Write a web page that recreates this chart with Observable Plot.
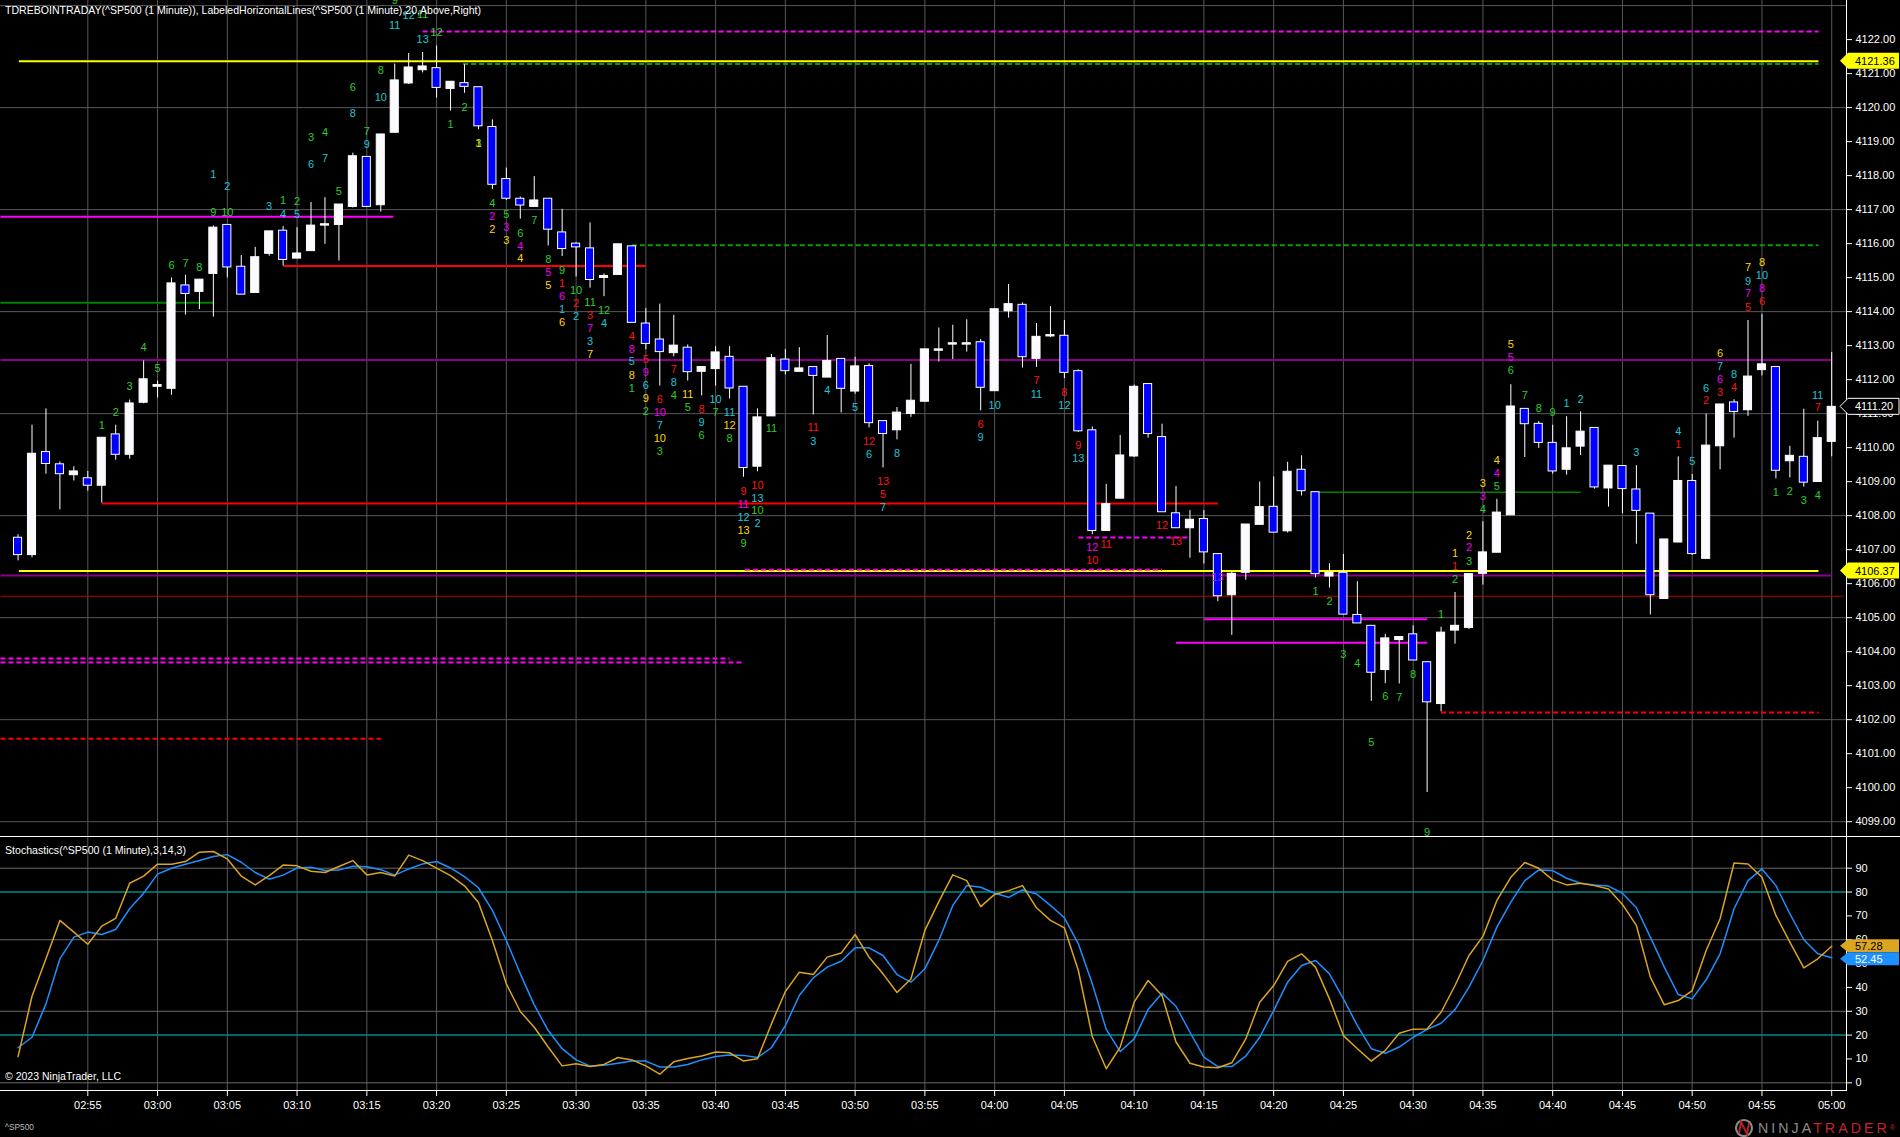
<!DOCTYPE html>
<html><head><meta charset="utf-8">
<script src="https://cdn.jsdelivr.net/npm/d3@7"></script>
<script src="https://cdn.jsdelivr.net/npm/@observablehq/plot@0.6"></script>
<style>
html,body{margin:0;padding:0;background:#000;}
#wrap{position:relative;width:1900px;height:1137px;overflow:hidden;background:#000;font-family:"Liberation Sans",Arial,sans-serif;}
.abs{position:absolute;white-space:nowrap;}
.t{color:#fff;font-size:11px;line-height:11px;transform-origin:0 50%;}
.line{position:absolute;background:#fff;}
</style></head><body><div id="wrap"></div>
<script>
// ---------------- DATA ----------------
const startMinutes = 2 * 60 + 50; // first bar 02:50, one bar per minute
const open = [4107.35,4106.84,4109.87,4109.51,4109.19,4109.10,4108.88,4110.39,4109.79,4111.32,
 4111.79,4111.73,4114.77,4114.58,4115.11,4116.55,4115.32,4114.55,4115.70,4116.38,
 4115.56,4115.78,4116.53,4116.55,4117.08,4118.55,4117.13,4119.26,4120.71,4121.10,
 4121.16,4120.55,4120.72,4120.60,4119.43,4117.90,4117.32,4117.08,4117.32,4116.33,
 4116.00,4115.86,4114.99,4115.08,4115.92,4113.65,4113.18,4112.78,4112.94,4112.23,
 4112.31,4112.67,4111.79,4109.44,4110.92,4112.59,4112.23,4112.37,4112.06,4112.61,
 4111.65,4112.40,4110.78,4110.51,4110.99,4111.35,4112.85,4113.03,4113.03,4113.10,
 4111.66,4114.01,4114.20,4112.61,4113.27,4113.29,4112.25,4110.51,4107.55,4108.50,
 4109.74,4111.87,4110.31,4108.07,4107.63,4107.90,4106.87,4105.66,4106.32,4107.73,
 4108.26,4107.54,4109.35,4108.69,4106.21,4106.32,4105.08,4104.76,4103.46,4104.34,
 4104.51,4103.69,4102.46,4104.62,4104.70,4106.29,4106.91,4108.01,4111.14,4110.70,
 4110.14,4109.35,4110.03,4110.58,4108.80,4109.46,4108.77,4108.06,4105.55,4107.21,
 4109.02,4106.73,4110.04,4111.33,4111.10,4112.28,4112.37,4109.60,4109.73,4108.99,
 4110.17];
const high = [4107.44,4110.66,4111.14,4109.58,4109.44,4109.30,4110.29,4110.66,4111.40,4112.55,
 4111.96,4114.99,4115.07,4114.94,4116.52,4116.55,4115.65,4115.89,4116.36,4116.50,
 4116.47,4117.21,4117.35,4117.15,4118.66,4118.55,4119.21,4121.28,4121.59,4121.62,
 4121.81,4120.76,4121.26,4120.60,4119.64,4118.22,4117.37,4117.97,4117.32,4117.01,
 4116.02,4116.61,4115.11,4115.98,4115.92,4114.09,4114.22,4113.89,4113.02,4112.37,
 4112.97,4112.97,4111.79,4111.14,4112.74,4112.89,4112.94,4112.37,4113.30,4112.61,
 4112.66,4112.47,4110.78,4111.18,4112.45,4112.89,4113.52,4113.60,4113.76,4113.18,
 4114.07,4114.80,4114.26,4113.65,4114.15,4113.74,4112.29,4110.61,4108.92,4110.36,
 4111.84,4111.87,4110.69,4108.86,4108.15,4108.15,4106.87,4106.36,4107.74,4108.99,
 4109.14,4109.57,4109.76,4108.69,4106.59,4106.86,4106.06,4104.76,4104.51,4104.43,
 4104.76,4103.69,4104.72,4105.74,4106.28,4107.82,4108.48,4111.85,4111.14,4110.77,
 4110.66,4110.91,4111.05,4110.58,4109.47,4109.46,4109.47,4108.06,4107.30,4109.73,
 4109.21,4110.99,4111.27,4111.41,4113.74,4113.92,4112.37,4110.04,4111.13,4110.78,
 4112.80];
const low = [4106.67,4106.76,4109.22,4108.17,4109.02,4108.72,4108.37,4109.63,4109.66,4111.29,
 4111.46,4111.54,4113.90,4114.06,4113.84,4114.99,4114.50,4114.55,4115.63,4115.34,
 4115.56,4115.78,4115.98,4115.49,4117.05,4117.08,4116.93,4119.26,4120.68,4121.02,
 4120.28,4119.90,4120.42,4119.35,4117.59,4117.27,4116.72,4117.08,4115.93,4115.62,
 4115.02,4114.69,4114.44,4115.08,4113.67,4112.88,4111.81,4112.67,4111.96,4111.52,
 4111.81,4111.43,4109.13,4109.29,4110.92,4112.14,4112.23,4110.96,4112.06,4111.02,
 4111.57,4110.58,4109.40,4110.23,4110.89,4111.35,4112.52,4112.59,4112.81,4111.08,
 4111.66,4113.81,4112.34,4112.36,4113.24,4112.03,4110.45,4107.44,4107.55,4108.50,
 4109.71,4110.28,4108.10,4107.63,4106.75,4106.58,4105.47,4104.48,4106.10,4107.73,
 4107.50,4107.49,4108.58,4106.17,4105.87,4105.09,4104.83,4102.54,4103.06,4103.05,
 4103.74,4099.86,4102.23,4104.22,4104.65,4105.96,4106.91,4108.01,4109.71,4109.98,
 4109.22,4109.19,4109.77,4108.78,4108.25,4108.06,4107.16,4105.08,4105.55,4107.21,
 4106.83,4106.73,4109.35,4110.28,4110.92,4112.11,4109.08,4109.11,4108.84,4108.99,
 4109.73];
const close = [4106.84,4109.82,4109.52,4109.22,4109.30,4108.88,4110.29,4109.79,4111.30,4112.01,
 4111.84,4114.83,4114.52,4114.94,4116.47,4115.30,4114.50,4115.60,4116.36,4115.52,
 4115.71,4116.53,4116.57,4117.15,4118.57,4117.08,4119.21,4120.80,4121.18,4121.21,
 4120.58,4120.76,4120.61,4119.45,4117.73,4117.32,4117.12,4117.27,4116.41,4115.84,
 4115.89,4114.93,4115.05,4115.98,4113.67,4113.05,4112.81,4113.00,4112.22,4112.37,
 4112.80,4111.74,4109.40,4110.89,4112.63,4112.25,4112.33,4112.11,4112.55,4111.73,
 4112.39,4110.72,4110.40,4111.03,4111.38,4112.89,4112.89,4113.07,4113.07,4111.76,
 4114.07,4114.22,4112.66,4113.26,4113.31,4112.20,4110.48,4107.55,4108.34,4109.77,
 4111.79,4110.40,4108.10,4107.63,4107.88,4106.92,4105.63,4106.29,4107.74,4108.25,
 4107.50,4109.29,4108.72,4106.28,4106.32,4105.09,4104.83,4103.38,4104.39,4104.43,
 4103.74,4102.51,4104.56,4104.76,4106.28,4106.92,4108.09,4111.21,4110.69,4110.14,
 4109.30,4109.98,4110.47,4108.83,4109.47,4108.78,4108.14,4105.66,4107.30,4109.02,
 4106.87,4110.06,4111.27,4111.05,4112.09,4112.45,4109.32,4109.76,4108.97,4110.28,
 4111.20];

// Stochastics(3,14,3): K (gold) and D (blue)
const stochK = [11.0,36.3,52.0,68.1,63.2,58.1,65.7,69.0,83.7,86.7,
 91.7,91.7,92.8,96.7,97.0,93.9,86.7,83.0,86.9,91.3,
 91.0,88.7,88.2,90.7,93.2,87.2,88.2,86.7,95.5,93.2,
 90.0,86.9,82.6,75.6,59.7,41.5,29.9,23.3,15.0,7.1,
 8.0,6.8,7.7,10.6,9.6,7.1,3.6,8.8,10.2,11.2,
 12.9,12.6,9.1,10.1,24.7,38.3,46.4,45.4,52.7,54.4,
 62.2,52.7,45.7,37.9,43.5,63.9,76.0,87.2,84.8,73.9,
 79.0,80.6,82.7,73.4,68.1,65.0,47.1,19.4,5.9,15.0,
 33.8,42.9,36.6,17.1,8.2,6.6,6.3,8.4,18.4,33.8,
 40.8,50.9,54.1,48.5,35.2,19.8,14.3,9.1,13.6,20.8,
 22.5,22.6,29.6,40.8,53.4,61.4,76.5,86.2,92.4,90.0,
 85.1,83.0,83.7,82.7,81.3,74.8,66.0,44.3,32.7,34.5,
 38.7,55.5,68.8,92.2,91.8,86.2,70.2,59.0,48.2,52.0,
 57.28];
const stochD = [14.7,19.1,33.1,52.0,61.1,63.2,62.2,64.3,73.0,79.5,
 87.5,90.0,91.7,93.2,94.9,95.7,92.5,88.2,85.4,87.1,
 90.1,90.4,89.0,89.2,90.8,90.6,89.4,87.1,89.7,91.8,
 92.8,90.1,86.5,81.8,72.3,59.7,45.7,32.7,21.9,14.3,
 9.6,7.0,7.4,8.2,9.1,9.1,6.6,6.6,7.7,9.6,
 11.0,11.7,11.5,10.6,14.7,24.0,36.6,44.0,48.5,51.0,
 56.6,56.6,53.4,45.4,42.2,47.8,59.7,74.4,82.7,82.0,
 79.5,77.8,80.9,79.2,74.4,69.2,58.3,41.5,22.4,13.1,
 18.4,30.7,37.6,32.1,21.2,10.8,6.8,6.8,11.2,19.1,
 30.3,42.2,49.2,51.3,45.7,35.2,24.0,14.3,12.4,15.0,
 19.1,22.4,25.0,30.7,40.1,51.3,65.3,75.8,84.8,89.3,
 89.0,85.8,83.7,83.0,82.5,79.5,73.4,61.1,48.5,37.0,
 35.2,43.2,54.1,73.0,84.8,89.7,82.7,70.9,60.0,54.1,
 52.45];

// Horizontal levels: [price, from bar, to bar, kind]
const levels = [
 [4121.36, 0.06, 129.05, "yellow"],
 [4121.28, 31.9, 129.05, "greenDash"],
 [4122.24, 29.0, 129.05, "magentaDash"],
 [4116.79, -1.26, 26.9, "magenta"],
 [4114.26, -1.26, 14.0, "green"],
 [4112.58, -1.26, 130.0, "purple"],
 [4108.36, 6.0, 86.0, "red"],
 [4115.34, 19.0, 45.0, "red"],
 [4106.37, 0.06, 129.05, "yellow"],
 [4106.24, -1.26, 130.0, "purple"],
 [4105.63, -1.26, 130.85, "redThin"],
 [4103.80, -1.26, 51.0, "magentaDash"],
 [4103.68, -1.26, 52.0, "magentaDash"],
 [4101.44, -1.26, 26.0, "redDash"],
 [4115.95, 44.0, 129.05, "greenDash"],
 [4107.36, 76.0, 84.0, "magentaDash"],
 [4106.41, 52.1, 82.0, "magentaDash"],
 [4104.95, 85.0, 101.0, "magenta"],
 [4104.26, 83.0, 101.0, "magenta"],
 [4108.69, 93.0, 112.0, "greenThin"],
 [4102.21, 102.0, 129.05, "redDash"]
];
const axisLabelLevels = [4121.36, 4106.37];

// TD count labels: [bar, price, text, colour key]
const tdCounts = [
 [6,4110.66,"1","g"],[7,4111.03,"2","g"],[8,4111.79,"3","g"],[9,4112.96,"4","g"],[10,4112.34,"5","g"],
 [11,4115.37,"6","g"],[12,4115.43,"7","g"],[13,4115.30,"8","g"],
 [14,4116.91,"9","g"],[14,4118.03,"1","c"],[15,4116.91,"10","g"],[15,4117.67,"2","c"],
 [18,4117.10,"3","c"],[19,4117.26,"1","g"],[19,4116.86,"4","c"],[20,4117.23,"2","g"],[20,4116.85,"5","c"],
 [21,4119.13,"3","g"],[21,4118.34,"6","c"],[22,4119.27,"4","g"],[22,4118.49,"7","c"],[23,4117.53,"5","g"],
 [24,4120.60,"6","g"],[24,4119.83,"8","c"],[25,4119.29,"7","g"],[25,4118.91,"9","c"],
 [26,4121.10,"8","g"],[26,4120.30,"10","c"],[27,4123.15,"9","g"],[27,4122.41,"11","c"],
 [28,4122.71,"12","c"],[29,4122.74,"11","g"],[29,4122.00,"13","c"],[30,4122.20,"12","g"],
 [31,4119.51,"1","g"],[32,4120.01,"2","g"],[33,4118.94,"3","g"],[33,4118.94,"1","y"],
 [34,4117.19,"4","g"],[34,4116.80,"2","m"],[34,4116.42,"2","y"],
 [35,4116.85,"5","g"],[35,4116.47,"3","m"],[35,4116.09,"3","y"],
 [36,4116.31,"6","g"],[36,4115.93,"4","m"],[36,4115.56,"4","y"],[37,4116.69,"7","g"],
 [38,4115.52,"8","g"],[38,4115.15,"5","m"],[38,4114.77,"5","y"],
 [39,4115.21,"9","g"],[39,4114.83,"1","r"],[39,4114.45,"6","m"],[39,4114.06,"1","c"],[39,4113.68,"6","y"],
 [40,4114.61,"10","g"],[40,4114.25,"2","r"],[40,4113.85,"2","c"],
 [41,4114.26,"11","g"],[41,4113.89,"3","r"],[41,4113.51,"7","m"],[41,4113.11,"3","c"],[41,4112.74,"7","y"],
 [42,4114.04,"12","g"],[42,4113.65,"4","c"],
 [44,4113.27,"4","r"],[44,4112.89,"8","m"],[44,4112.52,"5","c"],[44,4112.12,"8","y"],[44,4111.74,"1","g"],
 [45,4112.59,"5","r"],[45,4112.22,"9","m"],[45,4111.84,"6","c"],[45,4111.44,"9","y"],[45,4111.07,"2","g"],
 [46,4111.41,"6","r"],[46,4111.03,"10","m"],[46,4110.64,"7","c"],[46,4110.28,"10","y"],[46,4109.90,"3","g"],
 [47,4112.31,"7","r"],[47,4111.92,"8","c"],[47,4111.54,"4","g"],
 [48,4111.57,"11","y"],[48,4111.18,"5","g"],
 [49,4111.13,"8","r"],[49,4110.73,"9","c"],[49,4110.36,"6","g"],
 [50,4111.41,"10","c"],[50,4111.02,"7","g"],
 [51,4111.02,"11","c"],[51,4110.66,"12","y"],[51,4110.28,"8","g"],
 [52,4108.72,"9","r"],[52,4108.34,"11","m"],[52,4107.95,"12","c"],[52,4107.57,"13","y"],[52,4107.19,"9","g"],
 [53,4108.89,"10","r"],[53,4108.51,"13","c"],[53,4108.14,"10","g"],[53,4107.76,"2","c"],
 [54,4110.55,"11","g"],[57,4110.58,"11","r"],[57,4110.17,"3","c"],[58,4111.68,"4","c"],[60,4111.18,"5","c"],
 [61,4110.18,"12","r"],[61,4109.79,"6","c"],
 [62,4109.02,"13","r"],[62,4108.62,"5","r"],[62,4108.25,"7","c"],[63,4109.82,"8","c"],
 [69,4110.69,"6","r"],[69,4110.29,"9","c"],[70,4111.25,"10","c"],
 [73,4111.98,"7","r"],[73,4111.57,"11","c"],[75,4111.62,"8","r"],[75,4111.24,"12","c"],
 [76,4110.07,"9","r"],[76,4109.68,"13","c"],[77,4107.06,"12","m"],[77,4106.69,"10","r"],
 [78,4107.16,"11","r"],[82,4107.71,"12","r"],[83,4107.24,"13","r"],[86,4106.17,"13","p"],
 [93,4105.76,"1","g"],[94,4105.49,"2","g"],[95,4103.93,"3","g"],[96,4103.66,"4","g"],[97,4101.34,"5","g"],
 [98,4102.67,"6","g"],[99,4102.65,"7","g"],[100,4103.33,"8","g"],[101,4098.68,"9","g"],[102,4105.09,"1","g"],
 [103,4106.89,"1","y"],[103,4106.51,"1","r"],[103,4106.13,"2","g"],
 [104,4107.43,"2","y"],[104,4107.05,"2","m"],[104,4106.65,"3","g"],
 [105,4108.95,"3","y"],[105,4108.56,"3","m"],[105,4108.18,"4","g"],
 [106,4109.62,"4","y"],[106,4109.24,"4","m"],[106,4108.86,"5","g"],
 [107,4113.02,"5","y"],[107,4112.64,"5","m"],[107,4112.26,"6","g"],
 [108,4111.54,"7","g"],[109,4111.16,"8","g"],[110,4111.03,"9","g"],[111,4111.29,"1","c"],[112,4111.41,"2","c"],
 [116,4109.85,"3","c"],[119,4110.47,"4","c"],[119,4110.10,"1","r"],[120,4109.58,"5","c"],
 [121,4111.74,"6","c"],[121,4111.38,"2","r"],
 [122,4112.78,"6","y"],[122,4112.39,"7","c"],[122,4112.01,"6","m"],[122,4111.63,"3","r"],
 [123,4112.14,"8","c"],[123,4111.77,"4","r"],
 [124,4115.30,"7","y"],[124,4114.89,"9","c"],[124,4114.52,"7","m"],[124,4114.12,"5","r"],
 [125,4115.45,"8","y"],[125,4115.05,"10","c"],[125,4114.67,"8","m"],[125,4114.30,"6","r"],
 [126,4108.69,"1","g"],[127,4108.72,"2","g"],[128,4108.45,"3","g"],
 [129,4108.59,"4","g"],[129,4111.54,"11","c"],[129,4111.18,"7","r"]
];
const priceTicks = d3.range(4099, 4123);
const priceGrid = d3.range(4099, 4124, 3);
const timeTicks = d3.range(5, 131, 5);
const stochTicks = d3.range(0, 100, 10);

// ---------------- STYLES ----------------
const tdColors = {g:"#2ecc2e", c:"#1cc6d6", r:"#ff1414", m:"#f000f0", y:"#ffd700", p:"#a020c8"};
const levelStyles = {
 yellow: {stroke:"#ffff00", strokeWidth:2},
 greenDash: {stroke:"#00a000", strokeWidth:2, strokeDasharray:"5,3"},
 magentaDash: {stroke:"#ff00ff", strokeWidth:2, strokeDasharray:"5,3"},
 magenta: {stroke:"#ff00ff", strokeWidth:2},
 green: {stroke:"#008000", strokeWidth:2},
 greenThin: {stroke:"#008000", strokeWidth:1.5},
 purple: {stroke:"#8b008b", strokeWidth:2},
 red: {stroke:"#ff0000", strokeWidth:2},
 redThin: {stroke:"#c00000", strokeWidth:1},
 redDash: {stroke:"#ff0000", strokeWidth:2, strokeDasharray:"5,3"}
};
const gridColor = "#585858";
const font = '"Liberation Sans", Arial, sans-serif';
const xDomain = [-1.258, 131.06];
const fmtTime = i => { const m = startMinutes + i; return String(Math.floor(m/60)).padStart(2,"0") + ":" + String(m % 60).padStart(2,"0"); };

const candles = open.map((o, i) => ({i, open:o, high:high[i], low:low[i], close:close[i]}));
const stoch = stochK.map((k, i) => ({i, k, d: stochD[i]}));

const wrap = document.getElementById("wrap");

// ---------------- PRICE PANEL ----------------
const pricePlot = Plot.plot({
 width: 1900, height: 837,
 marginLeft: 0, marginRight: 54, marginTop: 0, marginBottom: 0,
 style: {background:"transparent", color:"#fff", fontFamily: font, fontSize:"11px"},
 x: {domain: xDomain, axis: null},
 y: {domain: [4098.535, 4123.150]},
 marks: [
  Plot.ruleX(timeTicks, {stroke: gridColor, strokeWidth: 1}),
  Plot.ruleY(priceGrid, {stroke: gridColor, strokeWidth: 1}),
  ...Object.keys(levelStyles).map(k => Plot.link(levels.filter(d => d[3] === k), {
    x1: d => d[1], x2: d => d[2], y1: d => d[0], y2: d => d[0], ...levelStyles[k]})),
  Plot.ruleX(candles, {x: "i", y1: "low", y2: "high", stroke: "#fff", strokeWidth: 1}),
  Plot.rect(candles, {x1: d => d.i - 0.29, x2: d => d.i + 0.29, y1: "open", y2: "close",
    fill: d => d.close >= d.open ? "#fafaff" : "#0000ff", stroke: "#fff", strokeWidth: 1}),
  Plot.text(tdCounts, {x: d => d[0], y: d => d[1], text: d => d[2], fill: d => tdColors[d[3]], fontSize: 11}),
  Plot.axisY(priceTicks, {anchor: "right", label: null, tickFormat: d => d.toFixed(2), tickSize: 5, tickPadding: 4, fontSize: 11})
 ]
});
pricePlot.style.position = "absolute"; pricePlot.style.left = "0px"; pricePlot.style.top = "0px";
wrap.appendChild(pricePlot);

// ---------------- STOCHASTICS PANEL ----------------
const stochTop = 837;
const stochPlot = Plot.plot({
 width: 1900, height: 283,
 marginLeft: 0, marginRight: 54, marginTop: 0, marginBottom: 30,
 style: {background:"transparent", color:"#fff", fontFamily: font, fontSize:"11px"},
 x: {domain: xDomain, label: null},
 y: {domain: [-3.23, 102.88], label: null},
 marks: [
  Plot.ruleX(timeTicks, {stroke: gridColor, strokeWidth: 1}),
  Plot.ruleY([0, 30, 60, 90], {stroke: "#6a6a6a", strokeWidth: 1}),
  Plot.ruleY([20, 80], {stroke: "#008b8b", strokeWidth: 1.5}),
  Plot.line(stoch, {x: "i", y: "d", stroke: "#1e90ff", strokeWidth: 1.5}),
  Plot.line(stoch, {x: "i", y: "k", stroke: "#daa520", strokeWidth: 1.5}),
  Plot.axisY(stochTicks, {anchor: "right", label: null, tickSize: 5, tickPadding: 4, fontSize: 11}),
  Plot.axisX(timeTicks, {anchor: "bottom", label: null, tickFormat: fmtTime, tickSize: 6, tickPadding: 5, fontSize: 11})
 ]
});
stochPlot.style.position = "absolute"; stochPlot.style.left = "0px"; stochPlot.style.top = stochTop + "px";
wrap.appendChild(stochPlot);

// ---------------- FRAME LINES ----------------
function hline(x, y, w){ const d = document.createElement("div"); d.className="line"; Object.assign(d.style,{left:x+"px",top:y+"px",width:w+"px",height:"1px"}); wrap.appendChild(d); }
function vline(x, y, h){ const d = document.createElement("div"); d.className="line"; Object.assign(d.style,{left:x+"px",top:y+"px",width:"1px",height:h+"px"}); wrap.appendChild(d); }
vline(1846, 0, 1091);
hline(0, 836, 1900);
hline(0, 1090, 1847);

// ---------------- TEXTS ----------------
function addText(txt, x, yc, w, opts = {}){
 const d = document.createElement("div");
 d.className = "abs t"; d.textContent = txt;
 d.style.left = x + "px"; d.style.top = (yc - 5.5) + "px";
 if (opts.color) d.style.color = opts.color;
 if (opts.size) { d.style.fontSize = opts.size + "px"; d.style.lineHeight = opts.size + "px"; d.style.top = (yc - opts.size/2) + "px"; }
 wrap.appendChild(d);
 const r = d.getBoundingClientRect().width;
 if (w && r > 0) d.style.transform = `scaleX(${w / r})`;
 return d;
}
addText("TDREBOINTRADAY(^SP500 (1 Minute)), LabeledHorizontalLines(^SP500 (1 Minute),20,Above,Right)", 5, 10, 476);
addText("Stochastics(^SP500 (1 Minute),3,14,3)", 5, 850, 181);
addText("\u00A9 2023 NinjaTrader, LLC", 5, 1076, 116);
addText("^SP500", 5, 1127, 29, {color:"#bbbbbb", size:9});

// ---------------- VALUE BOXES ----------------
const ov = d3.select(wrap).append("svg").attr("width", 1900).attr("height", 1137)
 .style("position","absolute").style("left","0px").style("top","0px").style("pointer-events","none")
 .style("font-family", font).style("font-size", "11px");
function valueBox(yc, h, fill, stroke, textColor, text){
 const x0 = 1840, x1 = 1899, tip = 8;
 ov.append("path")
  .attr("d", `M${x0},${yc} L${x0+tip},${yc-h/2} L${x1},${yc-h/2} L${x1},${yc+h/2} L${x0+tip},${yc+h/2} Z`)
  .attr("fill", fill).attr("stroke", stroke || "none").attr("stroke-width", 1);
 ov.append("text").attr("x", 1855).attr("y", yc).attr("dy", "0.36em").attr("fill", textColor).text(text);
}
const py = pricePlot.scale("y");
axisLabelLevels.forEach(v => valueBox(py.apply(v), 16, "#ffff00", null, "#000", v.toFixed(2)));
valueBox(py.apply(close[close.length-1]), 16, "#000", "#fff", "#fff", close[close.length-1].toFixed(2));
const sy = stochPlot.scale("y");
const kY = sy.apply(stochK[stochK.length-1]) + stochTop;
let dY = sy.apply(stochD[stochD.length-1]) + stochTop;
if (dY - kY < 13) dY = kY + 13;
valueBox(kY, 13, "#daa520", null, "#000", stochK[stochK.length-1].toFixed(2));
valueBox(dY, 13, "#1e90ff", null, "#fff", stochD[stochD.length-1].toFixed(2));

// ---------------- LOGO ----------------
const lg = ov.append("g");
lg.append("circle").attr("cx", 1744).attr("cy", 1128).attr("r", 8).attr("fill", "none").attr("stroke", "#8a8a8a").attr("stroke-width", 2.2);
lg.append("path").attr("d", "M1739,1133 L1741,1122 L1747,1134 L1749,1123").attr("fill","none").attr("stroke","#b0202a").attr("stroke-width",2);
const logo = document.createElement("div");
logo.className = "abs";
Object.assign(logo.style, {left:"1758px", top:"1120px", fontSize:"14px", lineHeight:"16px", letterSpacing:"3px", transformOrigin:"0 50%", fontWeight:"300"});
logo.innerHTML = '<span style="color:#8c8c8c">NINJA</span><span style="color:#c1272d">TRADER</span><span style="color:#c1272d;font-size:7px;vertical-align:top;letter-spacing:0">&reg;</span>';
wrap.appendChild(logo);
const lw = logo.getBoundingClientRect().width;
if (lw > 0) logo.style.transform = `scaleX(${137 / lw})`;
</script></body></html>
